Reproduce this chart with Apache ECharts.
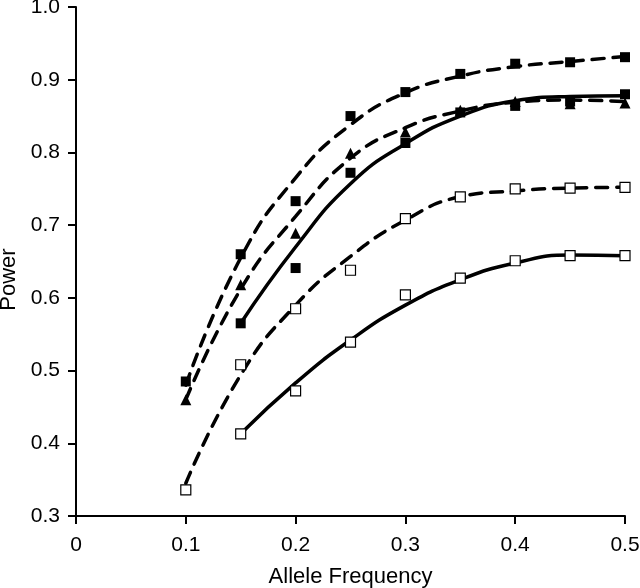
<!DOCTYPE html>
<html>
<head>
<meta charset="utf-8">
<script src="https://cdn.jsdelivr.net/npm/echarts@6/dist/echarts.min.js"></script>
<style>
  html, body { margin: 0; padding: 0; background: #fff; }
  #chart { width: 640px; height: 588px; }
</style>
</head>
<body>
<div id="chart"></div>
<script>
// allele frequencies where power was simulated
const freqs = [0.1, 0.15, 0.2, 0.25, 0.3, 0.35, 0.4, 0.45, 0.5]
const freqsFrom15 = [0.15, 0.2, 0.25, 0.3, 0.35, 0.4, 0.45, 0.5]

// observed points
const filledTopPts = [0.485, 0.66, 0.733, 0.85, 0.883, 0.908, 0.922, 0.924, 0.931]
const trianglePts = [0.46, 0.618, 0.689, 0.799, 0.828, 0.858, 0.87, 0.867, 0.868]
const filledSolidPts = [0.565, 0.641, 0.772, 0.813, 0.855, 0.864, 0.87, 0.88]
const openDashPts = [0.336, 0.508, 0.585, 0.638, 0.709, 0.739, 0.75, 0.751, 0.752]
const openSolidPts = [0.413, 0.472, 0.539, 0.604, 0.627, 0.651, 0.658, 0.658]

// fitted curves
const filledTopFit = [0.48, 0.655, 0.765, 0.838, 0.882, 0.905, 0.918, 0.925, 0.932]
const triangleFit = [0.46, 0.612, 0.712, 0.792, 0.834, 0.857, 0.869, 0.872, 0.870]
const filledSolidFit = [0.565, 0.67, 0.757, 0.812, 0.85, 0.871, 0.877, 0.878]
const openDashFit = [0.345, 0.494, 0.59, 0.657, 0.707, 0.739, 0.747, 0.751, 0.752]
const openSolidFit = [0.413, 0.483, 0.542, 0.59, 0.625, 0.648, 0.659, 0.658]

const yTicks = ['0.3', '0.4', '0.5', '0.6', '0.7', '0.8', '0.9', '1.0']

const pairs = (xs, ys) => xs.map((x, i) => [x, ys[i]])

const fitLine = (xs, ys, dashed) => ({
  type: 'line',
  data: pairs(xs, ys),
  smooth: 0.5,
  showSymbol: false,
  silent: true,
  z: 2,
  lineStyle: {
    color: '#000',
    width: 3.5,
    type: dashed ? [12, 9] : 'solid',
    cap: dashed ? 'round' : 'butt'
  }
})

const points = (xs, ys, symbol, open) => ({
  type: 'scatter',
  data: pairs(xs, ys),
  symbol: symbol,
  symbolSize: symbol === 'triangle' ? 11 : 10,
  z: 3,
  itemStyle: open
    ? { color: '#fff', borderColor: '#000', borderWidth: 1.2, opacity: 1 }
    : { color: '#000', opacity: 1 }
})

const font = 'Liberation Sans'

const chart = echarts.init(document.getElementById('chart'))
chart.setOption({
  animation: false,
  grid: { left: 76, right: 15, top: 7, bottom: 72, outerBoundsMode: 'none' },
  xAxis: {
    type: 'value',
    min: 0,
    max: 0.5,
    interval: 0.1,
    name: 'Allele Frequency',
    nameLocation: 'middle',
    nameGap: 50,
    nameTextStyle: { fontFamily: font, fontSize: 22, color: '#000' },
    axisLine: { lineStyle: { color: '#000', width: 2 } },
    axisTick: { length: 8, lineStyle: { color: '#000', width: 2 } },
    axisLabel: {
      margin: 19,
      fontFamily: font,
      fontSize: 21,
      color: '#000',
      formatter: v => (v === 0 ? '0' : v.toFixed(1))
    },
    splitLine: { show: false }
  },
  yAxis: {
    type: 'value',
    min: 0.3,
    max: 1.0,
    interval: 0.1,
    name: 'Power',
    nameLocation: 'middle',
    nameGap: 56,
    nameTextStyle: { fontFamily: font, fontSize: 22, color: '#000', padding: [0, 36, 0, 0] },
    axisLine: { lineStyle: { color: '#000', width: 2 } },
    axisTick: { length: 8, lineStyle: { color: '#000', width: 2 } },
    axisLabel: {
      margin: 16,
      fontFamily: font,
      fontSize: 21,
      color: '#000',
      formatter: v => yTicks[Math.round((v - 0.3) * 10)]
    },
    splitLine: { show: false }
  },
  series: [
    fitLine(freqs, filledTopFit, true),
    fitLine(freqs, triangleFit, true),
    fitLine(freqsFrom15, filledSolidFit, false),
    fitLine(freqs, openDashFit, true),
    fitLine(freqsFrom15, openSolidFit, false),
    points(freqs, filledTopPts, 'rect', false),
    points(freqs, trianglePts, 'triangle', false),
    points(freqsFrom15, filledSolidPts, 'rect', false),
    points(freqs, openDashPts, 'rect', true),
    points(freqsFrom15, openSolidPts, 'rect', true)
  ]
})
</script>
</body>
</html>
